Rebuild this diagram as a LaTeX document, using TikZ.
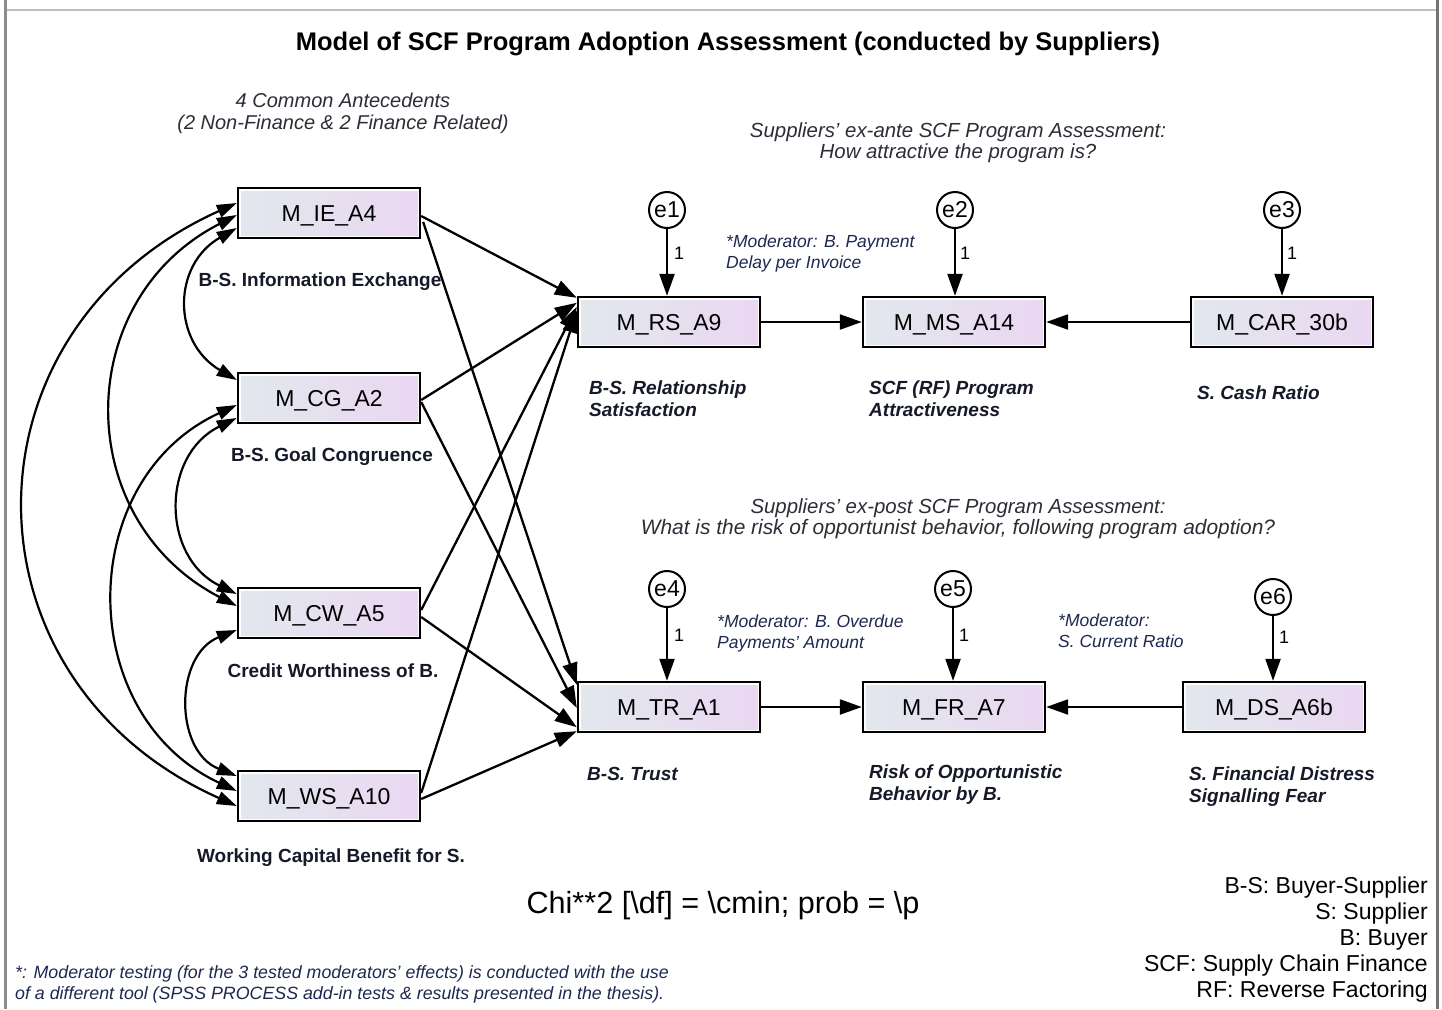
\documentclass[tikz,border=0pt]{standalone}
\usepackage{fontspec}
\setmainfont{Liberation Sans}
\usetikzlibrary{arrows.meta,calc}
\definecolor{boxL}{RGB}{226,232,237}
\definecolor{boxR}{RGB}{234,215,242}
\definecolor{modc}{RGB}{30,40,80}
\definecolor{headc}{RGB}{45,45,55}
\definecolor{labc}{RGB}{22,25,40}
\begin{document}
\begin{tikzpicture}[x=1pt,y=-1pt,
 var/.style={draw=black, line width=2.4pt, minimum width=182pt, minimum height=50pt, inner sep=0pt,
   text height=16.5pt, text depth=0pt,
   left color=boxL, right color=boxR, font=\fontsize{23}{26}\selectfont,
   path picture={\draw[white,line width=5pt] (path picture bounding box.south west) rectangle (path picture bounding box.north east);}},
 err/.style={circle, draw=black, line width=2pt, fill=white, minimum size=36pt, inner sep=0pt, font=\fontsize{23}{26}\selectfont},
 pth/.style={line width=2.3pt, -{Triangle[length=22pt,width=15pt]}},
 cov/.style={line width=2.2pt, {Triangle[length=20pt,width=13pt]}-{Triangle[length=20pt,width=13pt]}},
 head/.style={font=\fontsize{20}{21}\selectfont\itshape, text=headc, anchor=base},
 blab/.style={font=\fontsize{19}{22}\selectfont\bfseries, text=labc, anchor=base},
 ilab/.style={font=\fontsize{19}{22}\selectfont\bfseries\itshape, text=labc, anchor=base west, align=left, inner sep=0pt},
 modl/.style={font=\fontsize{17.5}{21}\selectfont\itshape, text=modc, anchor=base west, align=left, inner sep=0pt},
 one/.style={font=\fontsize{18}{20}\selectfont, anchor=base},
 leg/.style={font=\fontsize{23}{26}\selectfont, anchor=base east, inner sep=0pt}
]
\useasboundingbox (0,0) rectangle (1442,1009);
\fill[white] (0,0) rectangle (1442,1009);
% frame
\draw[black!45, line width=3pt] (5.5,0) -- (5.5,1009);
\draw[black!25, line width=1.5pt] (7,10) -- (1436,10);
\draw[black!55, line width=3pt] (1437,0) -- (1437,1009);

% title and headers
\node[font=\fontsize{25.5}{30}\selectfont\bfseries, anchor=base] (title) at (728,50) {Model of SCF Program Adoption Assessment (conducted by Suppliers)};
\node[head] (h1a) at (343,107) {4 Common Antecedents};
\node[head] (h1b) at (343,129) {(2 Non-Finance \& 2 Finance Related)};
\node[head, font=\fontsize{20.4}{21}\selectfont\itshape] (h2a) at (958,137) {Suppliers' ex-ante SCF Program Assessment:};
\node[head, font=\fontsize{20.4}{21}\selectfont\itshape] (h2b) at (958,158) {How attractive the program is?};
\node[head, font=\fontsize{20.4}{21}\selectfont\itshape] (h3a) at (958,513) {Suppliers' ex-post SCF Program Assessment:};
\node[head, font=\fontsize{20.9}{21}\selectfont\itshape] (h3b) at (958,534) {What is the risk of opportunist behavior, following program adoption?};

% observed variables
\node[var] (ie) at (329,213) {M\_IE\_A4};
\node[var] (cg) at (329,398) {M\_CG\_A2};
\node[var] (cw) at (329,613) {M\_CW\_A5};
\node[var] (ws) at (329,796) {M\_WS\_A10};
\node[var] (rs) at (669,322) {M\_RS\_A9};
\node[var] (ms) at (954,322) {M\_MS\_A14};
\node[var] (car) at (1282,322) {M\_CAR\_30b};
\node[var] (tr) at (669,707) {M\_TR\_A1};
\node[var] (fr) at (954,707) {M\_FR\_A7};
\node[var] (ds) at (1274,707) {M\_DS\_A6b};

% error terms
\node[err] (e1) at (667,210) {e1};
\node[err] (e2) at (955,210) {e2};
\node[err] (e3) at (1282,210) {e3};
\node[err] (e4) at (667,589) {e4};
\node[err] (e5) at (953,589) {e5};
\node[err] (e6) at (1273,597) {e6};

% labels under boxes
\node[blab] (lie) at (320,286) {B-S. Information Exchange};
\node[blab] (lcg) at (332,461) {B-S. Goal Congruence};
\node[blab] (lcw) at (333,677) {Credit Worthiness of B.};
\node[blab] (lws) at (331,862) {Working Capital Benefit for S.};
\node[ilab] (lrs) at (589,416) {B-S. Relationship\\Satisfaction};
\node[ilab] (lms) at (869,416) {SCF (RF) Program\\Attractiveness};
\node[ilab] (lcar) at (1197,399) {S. Cash Ratio};
\node[ilab] (ltr) at (587,780) {B-S. Trust};
\node[ilab] (lfr) at (869,800) {Risk of Opportunistic\\Behavior by B.};
\node[ilab] (lds) at (1189,802) {S. Financial Distress\\Signalling Fear};

% moderators
\node[modl] (m1) at (726,268) {*Moderator: B. Payment\\Delay per Invoice};
\node[modl] (m2) at (717,648) {*Moderator: B. Overdue\\Payments' Amount};
\node[modl] (m3) at (1058,647) {*Moderator:\\S. Current Ratio};

% error arrows
\draw[pth] (e1) -- (rs.north -| e1);
\draw[pth] (e2) -- (ms.north -| e2);
\draw[pth] (e3) -- (car.north -| e3);
\draw[pth] (e4) -- (tr.north -| e4);
\draw[pth] (e5) -- (fr.north -| e5);
\draw[pth] (e6) -- (ds.north -| e6);
\node[one] (o1) at (679,259) {1};
\node[one] (o2) at (965,259) {1};
\node[one] (o3) at (1292,259) {1};
\node[one] (o4) at (679,641) {1};
\node[one] (o5) at (964,641) {1};
\node[one] (o6) at (1284,643) {1};

% structural paths
\draw[pth] (rs) -- (ms);
\draw[pth] (car) -- (ms);
\draw[pth] (tr) -- (fr);
\draw[pth] (ds) -- (fr);

\draw[pth] ($(ie.east)+(0,3)$) -- ($(rs.north west)+(0,2)$);
\draw[pth] ($(ie.east)+(2,9)$) -- ($(tr.north west)+(0,4)$);
\draw[pth] ($(cg.east)+(0,2)$) -- ($(rs.north west)+(0,7)$);
\draw[pth] ($(cg.east)+(0,4)$) -- ($(tr.west)+(0,1)$);
\draw[pth] ($(cw.east)+(0,-3)$) -- ($(rs.north west)+(0,11)$);
\draw[pth] ($(cw.east)+(0,4)$) -- ($(tr.south west)+(0,-6)$);
\draw[pth] ($(ws.east)+(0,-3)$) -- ($(rs.north west)+(0,15)$);
\draw[pth] ($(ws.east)+(0,3)$) -- ($(tr.south west)+(0,-2)$);

% covariances
\draw[cov] ($(ie.west)+(0,15)$) .. controls (172,265) and (172,342) .. ($(cg.west)+(0,-18)$);
\draw[cov] ($(ie.west)+(0,2)$) .. controls (71,300) and (71,520) .. ($(cw.west)+(0,-7)$);
\draw[cov] ($(ie.west)+(0,-10)$) .. controls (-45,330) and (-45,680) .. ($(ws.west)+(0,10)$);
\draw[cov] ($(cg.west)+(0,20)$) .. controls (161,455) and (161,557) .. ($(cw.west)+(0,-19)$);
\draw[cov] ($(cg.west)+(0,7)$) .. controls (74,480) and (74,715) .. ($(ws.west)+(0,-5)$);
\draw[cov] ($(cw.west)+(0,17)$) .. controls (174,655) and (174,751) .. ($(ws.west)+(0,-20)$);

% fit statistic, legend, footnote
\node[font=\fontsize{30.6}{34}\selectfont, anchor=base] (chi) at (723,913) {Chi**2 [\textbackslash df] = \textbackslash cmin; prob = \textbackslash p};
\node[leg] (g1) at (1428,893) {B-S: Buyer-Supplier};
\node[leg] (g2) at (1428,919) {S: Supplier};
\node[leg] (g3) at (1428,945) {B: Buyer};
\node[leg] (g4) at (1428,971) {SCF: Supply Chain Finance};
\node[leg] (g5) at (1428,997) {RF: Reverse Factoring};
\node[modl, font=\fontsize{17.8}{21}\selectfont\itshape] (fn) at (15,999) {*: Moderator testing (for the 3 tested moderators' effects) is conducted with the use\\of a different tool (SPSS PROCESS add-in tests \& results presented in the thesis).};
\end{tikzpicture}
\end{document}
